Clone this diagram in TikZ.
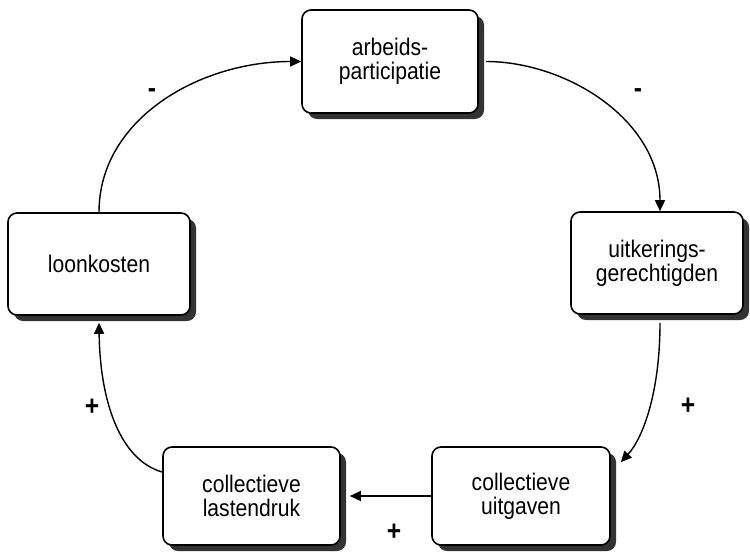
\documentclass[tikz,border=0pt]{standalone}
\usepackage{fontspec}
\setmainfont{Liberation Sans}[FakeStretch=0.88]
\usetikzlibrary{arrows.meta,shadows,calc}
\begin{document}
\begin{tikzpicture}[x=1pt,y=-1pt,
  box/.style={draw=black, line width=1.6pt, fill=white, rounded corners=9pt,
    align=center, inner sep=0pt, font=\fontsize{24}{24}\selectfont,
    general shadow={fill=black!80, shadow xshift=6pt, shadow yshift=-6pt}},
  conn/.style={draw=black, line width=1.4pt, -{Triangle[length=11pt,width=10pt]}},
  sign/.style={font=\fontsize{28}{28}\selectfont\bfseries}]
\useasboundingbox (0,0) rectangle (750,552);
\node[box, minimum width=176pt, minimum height=103pt] (arb) at (390,61.5) {arbeids-\\participatie};
\node[box, minimum width=172pt, minimum height=102pt] (uitk) at (657,263) {uitkerings-\\gerechtigden};
\node[box, minimum width=182pt, minimum height=102pt] (loon) at (99,264) {loonkosten};
\node[box, minimum width=177pt, minimum height=98pt] (last) at (251.5,496) {collectieve\\lastendruk};
\node[box, minimum width=178pt, minimum height=98pt] (uitg) at (521,496) {collectieve\\uitgaven};

\draw[conn] (loon.north) .. controls +(0,-93) and +(-102,0) .. (arb.west);
\draw[conn] ([xshift=7pt]arb.east) .. controls +(80,0) and +(0,-92) .. ([xshift=3pt]uitk.north);
\draw[conn] ([xshift=3pt,yshift=-8pt]uitk.south) .. controls +(0,70) and +(22,-24) .. ([xshift=10pt,yshift=-16pt]uitg.north east);
\draw[conn] (uitg.west) -- ([xshift=9pt]last.east);
\draw[conn] ([yshift=24pt]last.west) .. controls +(-42,-12) and +(1,79) .. ([yshift=-7pt]loon.south);

\node[sign] (m1) at (152,93) {-};
\node[sign] (m2) at (638,93) {-};
\node[sign] (p1) at (688,406) {+};
\node[sign] (p2) at (394,532) {+};
\node[sign] (p3) at (92,407) {+};
\end{tikzpicture}
\end{document}
